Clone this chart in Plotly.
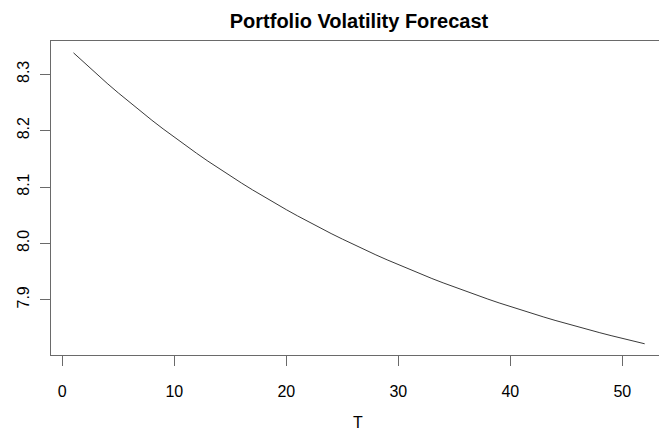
import plotly.graph_objects as go

# Forecast horizon (periods ahead) and forecast portfolio volatility
horizon = list(range(1, 53))
volatility = [
    8.3380, 8.3195, 8.3015, 8.2839, 8.2669, 8.2503, 8.2341, 8.2184, 8.2031, 8.1882,
    8.1737, 8.1597, 8.1459, 8.1326, 8.1196, 8.1070, 8.0947, 8.0828, 8.0711, 8.0598,
    8.0488, 8.0381, 8.0277, 8.0175, 8.0077, 7.9981, 7.9887, 7.9796, 7.9708, 7.9622,
    7.9538, 7.9456, 7.9377, 7.9300, 7.9225, 7.9152, 7.9081, 7.9012, 7.8944, 7.8879,
    7.8815, 7.8753, 7.8693, 7.8634, 7.8577, 7.8522, 7.8468, 7.8415, 7.8364, 7.8314,
    7.8266, 7.8219,
]
x_ticks = [0, 10, 20, 30, 40, 50]
y_ticks = [7.9, 8.0, 8.1, 8.2, 8.3]

font_family = "Liberation Sans, Arial, sans-serif"
axis_grey = "#6a6a6a"

fig = go.Figure(
    go.Scatter(
        x=horizon,
        y=volatility,
        mode="lines",
        line=dict(color="#3a3a3a", width=1),
        hoverinfo="skip",
    )
)

fig.update_layout(
    width=659,
    height=432,
    margin=dict(l=51, r=0, t=41, b=77),
    paper_bgcolor="white",
    plot_bgcolor="white",
    showlegend=False,
    font=dict(family=font_family, color="black", size=16),
    title=dict(
        text="<b>Portfolio Volatility Forecast</b>",
        x=359 / 659,
        xanchor="center",
        y=1 - 21 / 432,
        yanchor="middle",
        font=dict(size=20, family=font_family, color="black"),
    ),
    # x-axis title placed below the tick labels
    annotations=[
        dict(
            text="T",
            xref="paper",
            yref="paper",
            x=0.505,
            y=-0.215,
            xanchor="center",
            yanchor="middle",
            showarrow=False,
            font=dict(size=16, family=font_family, color="black"),
        )
    ],
)

fig.update_xaxes(
    range=[-1.01, 53.28],
    tickvals=x_ticks,
    ticktext=[str(v) for v in x_ticks],
    ticks="outside",
    ticklen=10,
    tickwidth=1,
    tickcolor=axis_grey,
    ticklabelstandoff=12,
    showline=True,
    linecolor=axis_grey,
    linewidth=1,
    mirror=True,
    showgrid=False,
    zeroline=False,
    automargin=False,
    tickfont=dict(size=16),
)

fig.update_yaxes(
    range=[7.802, 8.359],
    tickvals=y_ticks,
    ticktext=[f"{v:.1f}" for v in y_ticks],
    ticks="outside",
    ticklen=10,
    tickwidth=1,
    tickcolor=axis_grey,
    tickangle=-90,
    ticklabelstandoff=5,
    showline=True,
    linecolor=axis_grey,
    linewidth=1,
    showgrid=False,
    zeroline=False,
    automargin=False,
    tickfont=dict(size=16),
)

fig.write_html("out.html")
